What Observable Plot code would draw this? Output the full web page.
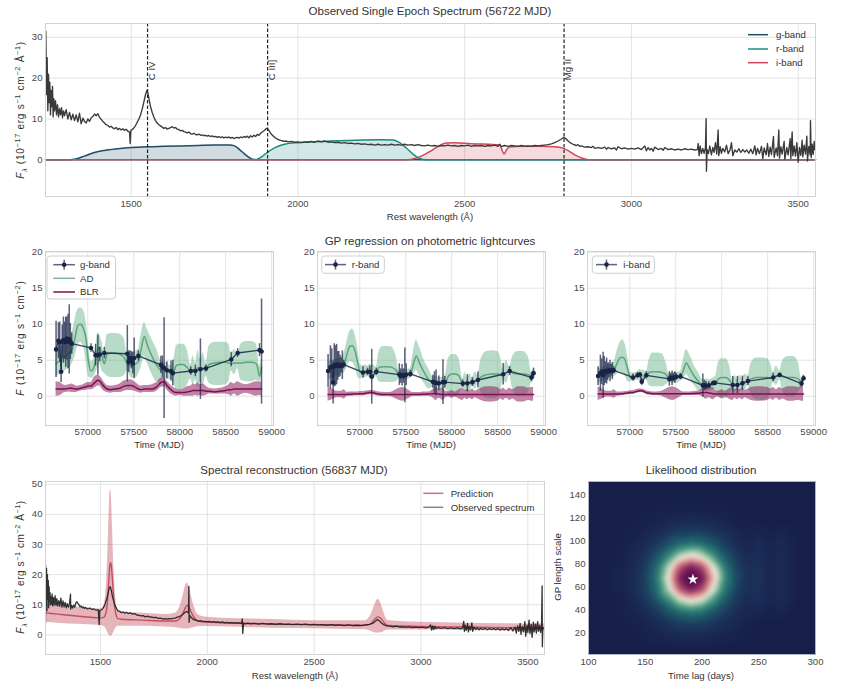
<!DOCTYPE html>
<html><head><meta charset="utf-8">
<script src="https://cdn.jsdelivr.net/npm/d3@7"></script>
<script src="https://cdn.jsdelivr.net/npm/@observablehq/plot@0.6"></script>
<style>
body{margin:0;background:#fff;}
#root{position:relative;width:841px;height:682px;overflow:hidden;background:#fff;font-family:"Liberation Sans",Arial,sans-serif;}
sup,sub{font-size:72%;line-height:0;}
</style></head><body><div id="root"></div>
<script>
// ---------------- DATA ----------------
// Top panel: observed single epoch spectrum [wavelength, flux]
const topSpec = [[1243,22],[1244,31.5],[1246,16],[1248,25],[1250,12],[1252,21],[1254,14],[1256,19],[1258,11],[1260,17],[1262,13],[1264,18],[1266,10.5],[1268,15],[1270,12],[1273,14.5],[1276,11],[1279,13.5],[1282,10.5],[1285,12.5],[1288,11],[1291,12.8],[1294,10.3],[1297,12],[1300,10.8],[1305,12.3],[1310,10],[1315,11.6],[1320,9.8],[1325,11.2],[1330,9.6],[1335,11],[1340,9.3],[1345,11.4],[1350,8.8],[1355,10.2],[1360,9.4],[1365,9.0],[1370,10],[1375,9.4],[1380,10.3],[1385,10.6],[1390,11.2],[1395,10.8],[1400,11.3],[1405,10.4],[1410,9.9],[1415,9.4],[1420,9.0],[1425,8.6],[1430,8.4],[1435,8.0],[1440,8.2],[1445,7.8],[1450,7.6],[1455,7.9],[1460,7.4],[1465,7.7],[1470,7.3],[1475,7.6],[1480,7.2],[1485,7.5],[1490,7.0],[1495,6.8],[1497,4.0],[1499,7.2],[1503,7.4],[1508,7.8],[1513,8.4],[1518,9.2],[1523,10.0],[1528,11.0],[1533,12.4],[1538,14.2],[1543,16.0],[1547,17.0],[1550,16.4],[1554,14.6],[1558,13.0],[1563,11.6],[1568,10.5],[1573,9.6],[1578,9.0],[1583,8.6],[1588,8.3],[1593,8.0],[1598,7.7],[1603,7.9],[1608,7.5],[1613,7.7],[1618,7.9],[1623,8.1],[1628,7.8],[1633,7.9],[1638,7.5],[1643,7.4],[1648,7.1],[1653,7.2],[1658,6.9],[1663,6.8],[1668,6.6],[1673,6.8],[1678,6.4],[1683,6.3],[1688,6.5],[1693,6.2],[1698,6.1],[1703,6.3],[1708,6.0],[1713,6.1],[1718,5.9],[1723,6.0],[1728,5.8],[1733,5.95],[1738,5.7],[1743,5.85],[1748,5.6],[1753,5.75],[1758,5.5],[1763,5.7],[1768,5.45],[1773,5.6],[1778,5.35],[1783,5.55],[1788,5.4],[1793,5.6],[1798,5.3],[1803,5.5],[1808,5.2],[1813,5.4],[1818,5.5],[1823,5.3],[1828,5.6],[1833,5.4],[1838,5.7],[1843,5.5],[1848,5.8],[1853,5.4],[1858,5.9],[1863,5.6],[1868,6.0],[1873,5.7],[1878,6.2],[1883,6.0],[1888,6.5],[1893,6.8],[1898,7.1],[1903,7.5],[1907,7.7],[1911,7.4],[1915,6.9],[1920,6.3],[1925,5.9],[1930,5.5],[1935,5.2],[1940,5.0],[1945,4.8],[1950,4.7],[1955,4.6],[1960,4.5],[1965,4.6],[1970,4.4],[1980,4.5],[1990,4.3],[2000,4.4],[2010,4.2],[2020,4.4],[2030,4.3],[2040,4.5],[2050,4.3],[2060,4.6],[2070,4.4],[2080,4.6],[2090,4.3],[2100,4.4],[2110,4.2],[2120,4.3],[2130,4.1],[2140,4.2],[2150,4.0],[2160,4.1],[2170,3.9],[2180,4.0],[2190,3.8],[2200,3.9],[2210,3.7],[2220,3.8],[2230,3.6],[2240,3.8],[2250,3.6],[2260,3.7],[2270,3.6],[2280,3.8],[2290,3.6],[2300,3.7],[2310,3.6],[2320,3.8],[2330,3.6],[2340,3.7],[2350,3.5],[2360,3.7],[2370,3.5],[2380,3.4],[2390,3.6],[2400,3.4],[2410,3.5],[2420,3.3],[2430,3.5],[2440,3.4],[2450,3.6],[2460,3.4],[2470,3.5],[2480,3.3],[2490,3.5],[2500,3.4],[2510,3.6],[2520,3.3],[2530,3.5],[2540,3.4],[2550,3.5],[2560,3.3],[2570,3.5],[2580,3.4],[2590,3.6],[2600,3.3],[2605,3.8],[2610,3.2],[2620,3.5],[2630,3.3],[2640,3.5],[2650,3.4],[2660,3.3],[2670,3.5],[2680,3.3],[2690,3.4],[2700,3.3],[2710,3.5],[2720,3.4],[2730,3.5],[2740,3.6],[2750,3.7],[2760,3.9],[2770,4.2],[2780,4.6],[2790,5.1],[2797,5.5],[2803,5.2],[2810,4.6],[2818,4.1],[2825,3.8],[2835,3.5],[2840,3.7],[2845,3.3],[2850,3.4],[2860,3.1],[2870,3.2],[2880,3.0],[2885,3.3],[2890,2.8],[2900,3.0],[2910,2.8],[2920,3.1],[2925,2.6],[2930,3.0],[2940,2.7],[2950,2.9],[2955,2.4],[2960,3.2],[2970,2.7],[2980,2.9],[2990,2.6],[3000,2.8],[3010,2.6],[3020,2.9],[3030,2.5],[3040,3.4],[3045,2.2],[3050,3.0],[3055,2.4],[3060,2.8],[3065,2.1],[3070,3.1],[3080,2.5],[3090,2.8],[3095,2.3],[3100,3.0],[3110,2.5],[3120,2.7],[3130,2.4],[3140,2.6],[3150,2.4],[3160,2.7],[3170,2.5],[3180,2.6],[3190,2.4],[3198,2.5],[3200,4.0],[3203,1.0],[3206,3.4],[3210,1.5],[3214,2.8],[3218,1.6],[3222,3.0],[3224,10.1],[3225,-2.8],[3227,2.5],[3231,1.5],[3235,3.4],[3240,1.2],[3244,3.0],[3248,1.8],[3252,4.2],[3256,1.4],[3260,7.3],[3262,1.0],[3266,3.2],[3270,1.6],[3274,2.8],[3280,1.9],[3285,3.6],[3290,1.5],[3296,2.5],[3300,4.2],[3304,1.0],[3310,2.4],[3316,1.9],[3322,2.7],[3328,1.8],[3334,2.5],[3340,1.9],[3346,2.4],[3352,1.6],[3358,2.6],[3364,1.5],[3370,3.4],[3374,1.2],[3378,2.8],[3384,1.5],[3390,3.3],[3394,0.3],[3398,2.9],[3404,1.2],[3408,4.0],[3412,0.8],[3416,3.1],[3420,1.3],[3426,5.7],[3428,0.6],[3434,2.9],[3438,1.0],[3442,7.3],[3444,0.4],[3448,3.2],[3452,1.4],[3458,4.5],[3460,0.1],[3466,3.0],[3470,1.2],[3476,5.2],[3478,0.3],[3482,6.8],[3484,1.0],[3488,3.4],[3492,0.9],[3496,4.2],[3500,-0.6],[3504,3.0],[3508,1.1],[3512,4.8],[3514,0.7],[3518,3.6],[3522,1.4],[3526,5.8],[3528,-0.3],[3532,3.3],[3536,1.2],[3537,9.6],[3539,0.5],[3542,3.8],[3545,1.3],[3548,4.5],[3550,2.5],[3552,3.4]];

// Filter transmission curves (scaled) [wavelength, value]
const gFilter = [[1243,0],[1305,0],[1330,0.15],[1360,0.9],[1390,1.8],[1420,2.3],[1460,2.7],[1500,3.0],[1550,3.2],[1600,3.3],[1650,3.4],[1700,3.5],[1750,3.6],[1795,3.65],[1810,3.4],[1825,2.5],[1840,1.4],[1855,0.5],[1868,0.05],[1880,0],[3552,0]];
const rFilter = [[1243,0],[1870,0],[1885,0.4],[1905,1.6],[1930,2.9],[1960,3.8],[2000,4.2],[2050,4.4],[2100,4.6],[2150,4.75],[2200,4.85],[2250,4.9],[2285,4.85],[2305,4.2],[2325,2.9],[2345,1.4],[2365,0.3],[2385,0],[3552,0]];
const iFilter = [[1243,0],[2330,0],[2350,0.3],[2370,0.9],[2395,2.0],[2420,3.3],[2445,4.1],[2470,4.2],[2520,3.95],[2570,3.8],[2605,3.7],[2612,2.4],[2618,1.4],[2625,2.4],[2635,3.1],[2670,3.3],[2720,3.3],[2770,3.2],[2797,2.8],[2815,2.0],[2835,1.0],[2855,0.3],[2875,0],[3552,0]];
const emLines = [{w:1549,name:"C IV"},{w:1909,name:"C III]"},{w:2798,name:"Mg II"}];

// Photometric light curves
const obsT = [56655,56680,56695,56710,56722,56735,56748,56760,56772,56785,56798,56810,56825,57035,57085,57110,57130,57180,57430,57445,57460,57475,57490,57505,57550,57795,57812,57830,57860,57905,57925,58120,58170,58225,58285,58560,58630,58868,58890];
const gFlux = [6.5,7.7,7.5,3.4,7.6,7.8,7.7,7.5,8.0,7.6,7.9,7.6,7.3,6.7,5.7,5.7,5.8,6.0,5.9,4.8,5.3,5.0,4.6,5.3,5.6,4.35,4.1,3.9,3.6,3.5,3.2,3.5,3.5,3.75,3.85,5.1,6.0,6.4,6.2];
const gErr  = [3.9,2.5,2.8,1.5,2.3,3.2,2.6,3.5,3.0,3.8,4.8,2.5,1.5,0.6,1.5,2.8,1.0,0.8,3.9,1.5,1.0,1.2,1.5,2.8,0.7,1.2,1.5,7.0,1.2,1.4,1.8,0.6,0.8,4.2,0.5,1.0,0.6,0.9,7.3];
const rFlux = [3.5,4.0,4.1,1.9,4.3,4.2,4.4,4.2,4.4,4.2,4.3,4.3,4.4,3.3,3.4,3.4,2.7,3.4,3.0,2.8,2.9,2.8,2.9,3.0,3.1,2.0,1.9,1.85,1.8,1.95,1.95,1.75,1.8,1.95,2.25,3.05,3.5,2.6,3.2];
const rErr  = [2.3,3.0,2.5,3.0,3.0,2.8,2.8,2.0,1.8,1.5,1.0,2.0,0.6,0.8,0.5,0.8,3.8,0.5,1.5,1.0,1.5,1.0,3.8,1.5,0.5,0.9,1.5,1.8,1.0,3.1,0.8,0.5,1.2,0.6,1.1,1.5,0.6,0.6,0.7];
const iFlux = [2.8,3.2,3.4,2.9,3.5,3.3,3.5,3.4,3.6,3.5,3.6,3.5,3.6,2.6,2.9,3.0,2.0,2.9,2.4,2.6,2.5,2.6,2.6,2.7,2.75,1.5,1.5,1.45,1.5,1.8,1.85,1.55,1.55,1.8,2.1,2.6,2.95,1.75,2.5];
const iErr  = [1.3,2.5,1.8,3.2,2.0,1.5,1.8,1.2,1.0,1.5,0.8,1.2,0.5,0.5,0.4,0.3,0.5,0.5,1.0,0.6,1.0,0.6,0.8,0.5,0.4,1.6,0.7,0.6,0.5,0.3,0.3,1.2,1.2,1.0,0.6,0.6,0.3,0.5,0.4];

// GP curves: [t, AD mean, AD lo, AD hi, BLR mean, BLR lo, BLR hi]
const gGP = [[56655,4.5,2.8,6.5,1.0,0.0,2.0],[56700,5.0,3.0,7.0,1.0,0.1,1.9],[56750,5.5,3.5,7.5,1.0,0.5,1.5],[56800,6.0,4.0,8.0,1.1,0.6,1.6],[56830,6.5,4.5,8.8,1.1,0.5,1.7],[56860,8.0,5.5,10.5,1.0,0.5,1.5],[56890,9.8,7.0,12.0,1.0,0.6,1.4],[56920,10.0,7.5,12.3,1.1,0.7,1.5],[56950,9.5,7.0,12.0,1.2,0.8,1.6],[56980,8.0,5.0,10.5,1.3,0.8,1.8],[57005,5.0,2.8,7.5,1.4,0.9,1.9],[57035,3.5,2.5,4.8,1.4,0.9,1.9],[57060,3.8,2.6,5.0,1.7,1.0,2.4],[57085,5.0,3.2,6.8,2.0,1.2,2.8],[57110,6.5,4.0,8.8,2.2,1.4,2.9],[57130,6.8,4.5,8.5,2.1,1.4,2.8],[57155,5.5,3.5,7.5,1.7,1.0,2.4],[57180,4.5,3.2,6.0,1.3,0.7,1.9],[57210,5.8,2.8,8.5,1.0,0.5,1.5],[57250,6.0,2.6,8.7,0.9,0.4,1.4],[57300,6.0,2.6,8.7,1.0,0.5,1.5],[57350,5.8,2.6,8.6,1.1,0.5,1.7],[57395,5.4,2.8,8.0,1.4,0.7,2.1],[57430,4.5,3.5,5.8,1.5,0.8,2.2],[57470,4.2,2.6,6.0,1.5,0.8,2.3],[57510,4.4,2.4,6.2,1.3,0.7,2.0],[57550,4.8,3.0,6.5,1.0,0.5,1.6],[57580,6.5,4.0,8.5,0.9,0.4,1.4],[57615,8.3,5.5,10.2,1.0,0.5,1.5],[57650,7.0,4.5,9.2,1.0,0.5,1.5],[57700,5.5,3.0,7.8,1.0,0.5,1.6],[57750,4.3,2.0,6.5,1.3,0.7,1.9],[57795,3.6,2.0,5.0,1.9,1.2,2.5],[57830,3.8,2.6,4.8,2.0,1.3,2.6],[57860,3.5,2.4,4.6,1.5,0.9,2.1],[57905,3.2,2.3,4.2,0.9,0.3,1.5],[57935,3.4,1.8,5.0,0.6,0.1,1.2],[57965,4.3,1.0,7.0,0.5,0.0,1.0],[58000,4.4,0.9,7.2,0.5,0.1,0.9],[58040,4.4,1.0,7.2,0.5,0.0,1.0],[58080,4.0,1.5,6.5,0.6,0.0,1.3],[58120,3.5,2.4,4.4,0.7,0.0,1.4],[58145,3.7,1.6,5.6,0.8,0.0,1.7],[58170,3.6,2.3,4.6,0.8,0.1,1.6],[58198,3.9,1.2,6.4,0.8,0.0,1.8],[58225,3.9,2.0,5.2,0.8,0.1,1.6],[58255,3.9,1.4,6.0,0.8,0.0,1.7],[58285,3.8,2.8,4.6,0.7,0.1,1.4],[58320,4.4,1.8,7.0,0.7,0.3,1.1],[58380,4.6,1.5,7.5,0.6,0.3,1.0],[58440,4.7,1.5,7.5,0.7,0.3,1.1],[58500,4.7,1.6,7.5,0.8,0.3,1.3],[58535,4.6,2.0,7.2,0.9,0.2,1.6],[58560,4.5,3.5,5.8,0.9,0.0,1.9],[58595,4.6,3.0,6.5,1.0,0.3,1.7],[58630,4.6,3.8,5.6,1.0,0.0,2.0],[58665,4.6,2.2,7.2,1.0,0.2,1.8],[58720,4.7,2.0,7.6,1.0,0.4,1.6],[58780,4.7,2.0,7.6,1.0,0.2,1.8],[58835,4.5,2.2,7.2,1.0,0.0,2.0],[58868,2.8,1.8,4.2,1.0,0.1,1.9],[58890,4.0,2.8,5.2,1.0,0.0,2.0]];
const rGP = [[56655,3.5,2.3,4.8,0.25,-0.7,1.2],[56700,3.8,2.5,5.0,0.25,-0.5,1.0],[56750,4.0,2.8,5.2,0.25,-0.2,0.7],[56800,4.2,3.0,5.4,0.25,-0.2,0.7],[56830,4.5,3.2,6.0,0.25,-0.4,0.9],[56860,5.8,4.0,7.5,0.25,-0.05,0.55],[56890,6.9,4.8,9.0,0.28,0.0,0.6],[56920,7.0,4.7,9.35,0.3,0.0,0.6],[56950,6.2,4.0,8.5,0.3,0.05,0.6],[56980,4.5,2.6,6.5,0.32,0.05,0.6],[57005,3.3,2.4,4.4,0.35,0.05,0.65],[57035,3.3,2.6,4.2,0.35,0.05,0.65],[57060,3.4,2.6,4.3,0.4,0.1,0.7],[57085,3.4,2.7,4.2,0.45,0.15,0.75],[57110,3.5,2.6,4.4,0.5,0.2,0.8],[57130,3.4,2.5,4.3,0.5,0.2,0.8],[57155,3.4,2.5,4.3,0.45,0.15,0.75],[57180,3.3,2.7,4.0,0.35,0.05,0.65],[57210,4.0,2.0,6.2,0.3,0.0,0.6],[57250,4.1,1.9,6.9,0.25,-0.05,0.55],[57300,4.1,1.9,6.9,0.25,0.0,0.5],[57350,4.0,1.9,6.8,0.25,-0.1,0.6],[57395,3.6,2.0,5.6,0.25,-0.4,0.9],[57430,2.9,2.4,3.5,0.25,-0.6,1.1],[57470,2.9,2.3,3.6,0.25,-0.7,1.2],[57510,3.0,2.3,3.7,0.25,-0.5,1.0],[57550,3.1,2.5,3.8,0.25,-0.2,0.7],[57580,4.3,2.9,6.0,0.25,0.0,0.5],[57615,5.6,3.6,7.8,0.25,0.0,0.5],[57650,4.6,2.8,6.8,0.25,0.0,0.5],[57700,3.3,1.8,5.0,0.28,0.0,0.6],[57750,2.3,1.0,3.8,0.3,0.0,0.6],[57795,1.9,1.2,2.7,0.35,-0.2,0.9],[57830,1.9,1.0,2.8,0.35,-0.6,1.2],[57860,1.8,0.8,2.6,0.3,-0.3,0.9],[57905,1.8,1.0,2.6,0.25,-0.6,1.1],[57935,2.0,1.0,3.2,0.25,-0.2,0.7],[57965,2.8,0.2,5.3,0.25,-0.1,0.6],[58000,3.1,-0.1,5.8,0.25,-0.3,0.8],[58040,3.1,-0.1,5.8,0.25,-0.1,0.6],[58080,2.8,0.3,5.2,0.25,-0.4,0.9],[58120,1.8,1.2,2.4,0.25,-0.6,1.1],[58145,1.9,0.6,3.3,0.25,-0.3,0.8],[58170,1.8,1.2,2.5,0.25,-0.5,1.0],[58198,1.9,0.8,3.1,0.25,-0.3,0.8],[58225,2.0,1.4,2.6,0.25,-0.5,1.0],[58255,2.1,0.9,3.4,0.25,-0.2,0.7],[58285,2.3,1.7,2.9,0.25,-0.4,0.9],[58320,2.7,0.5,5.2,0.25,-0.6,1.1],[58380,3.0,-0.3,6.2,0.25,-0.8,1.3],[58440,3.1,-0.4,6.3,0.25,-0.8,1.3],[58500,3.1,-0.2,6.2,0.25,-0.7,1.2],[58535,3.0,0.8,5.2,0.25,-0.4,0.9],[58560,3.0,2.3,3.8,0.25,-0.6,1.1],[58595,3.3,1.8,5.0,0.25,-0.3,0.8],[58630,3.5,2.9,4.1,0.25,-0.6,1.1],[58665,3.2,0.8,5.6,0.25,-0.4,0.9],[58720,3.1,0.0,6.2,0.25,-0.8,1.3],[58780,3.1,0.0,6.2,0.25,-0.8,1.3],[58835,3.0,0.6,5.4,0.25,-0.6,1.1],[58868,2.6,1.9,3.3,0.25,-0.7,1.2],[58890,3.1,2.4,3.9,0.25,-0.7,1.2]];
const iGP = [[56655,2.8,1.8,3.8,0.3,-0.6,1.3],[56700,3.0,2.0,4.0,0.3,-0.4,1.0],[56750,3.2,2.3,4.2,0.3,-0.1,0.7],[56800,3.4,2.5,4.4,0.3,-0.1,0.7],[56830,3.7,2.7,4.8,0.3,-0.3,0.9],[56860,4.5,3.0,6.2,0.3,0.0,0.6],[56890,5.3,3.4,7.3,0.32,0.05,0.6],[56920,5.4,3.2,7.8,0.35,0.1,0.6],[56950,5.0,2.8,7.2,0.4,0.15,0.65],[56980,3.6,2.0,5.2,0.45,0.2,0.7],[57005,2.6,2.0,3.3,0.5,0.25,0.75],[57035,2.6,2.1,3.2,0.5,0.25,0.75],[57060,2.7,2.1,3.3,0.6,0.35,0.85],[57085,2.8,2.2,3.4,0.7,0.45,0.95],[57110,2.9,2.1,3.7,0.75,0.5,1.0],[57130,2.8,2.0,3.6,0.75,0.5,1.0],[57155,2.8,2.0,3.6,0.65,0.4,0.9],[57180,2.8,2.3,3.4,0.5,0.25,0.75],[57210,3.3,1.5,5.0,0.4,0.15,0.65],[57250,3.4,1.3,6.0,0.35,0.1,0.6],[57300,3.4,1.3,6.0,0.35,0.1,0.6],[57350,3.3,1.3,5.9,0.35,0.0,0.7],[57395,3.0,1.6,4.6,0.35,-0.3,1.0],[57430,2.4,1.9,3.0,0.35,-0.5,1.2],[57470,2.5,1.8,3.2,0.35,-0.6,1.3],[57510,2.6,1.8,3.3,0.35,-0.4,1.1],[57550,2.7,2.1,3.4,0.35,-0.1,0.8],[57580,3.5,2.3,4.9,0.35,0.1,0.6],[57615,4.6,3.0,6.5,0.35,0.1,0.6],[57650,3.9,2.4,5.8,0.35,0.1,0.6],[57700,2.8,1.5,4.3,0.38,0.1,0.65],[57750,2.0,0.8,3.2,0.42,0.1,0.75],[57795,1.5,0.8,2.3,0.5,-0.1,1.1],[57830,1.5,0.7,2.4,0.5,-0.4,1.4],[57860,1.5,0.7,2.3,0.45,-0.2,1.1],[57905,1.7,0.9,2.5,0.35,-0.5,1.2],[57935,1.8,0.9,2.8,0.3,-0.2,0.8],[57965,2.4,0.0,4.7,0.3,-0.1,0.7],[58000,2.6,-0.4,5.2,0.3,-0.3,0.9],[58040,2.6,-0.4,5.2,0.3,-0.1,0.7],[58080,2.3,0.2,4.5,0.3,-0.4,1.0],[58120,1.6,0.9,2.3,0.3,-0.6,1.2],[58145,1.6,0.4,2.9,0.3,-0.3,0.9],[58170,1.6,0.9,2.3,0.3,-0.5,1.1],[58198,1.7,0.5,2.9,0.3,-0.3,0.9],[58225,1.8,1.1,2.5,0.3,-0.5,1.1],[58255,2.0,0.8,3.1,0.3,-0.2,0.8],[58285,2.1,1.5,2.8,0.3,-0.4,1.0],[58320,2.4,0.3,4.6,0.3,-0.6,1.2],[58380,2.6,-0.5,5.3,0.3,-0.7,1.3],[58440,2.6,-0.6,5.3,0.3,-0.7,1.3],[58500,2.6,-0.4,5.2,0.3,-0.6,1.2],[58535,2.5,0.6,4.4,0.3,-0.4,1.0],[58560,2.6,1.9,3.3,0.3,-0.6,1.2],[58595,2.8,1.5,4.2,0.3,-0.3,0.9],[58630,2.9,2.3,3.5,0.3,-0.6,1.2],[58665,2.7,0.6,5.0,0.3,-0.4,1.0],[58720,2.6,-0.1,5.5,0.3,-0.7,1.3],[58780,2.6,-0.1,5.5,0.3,-0.7,1.3],[58835,2.4,0.6,4.6,0.3,-0.6,1.2],[58868,1.8,1.2,2.4,0.3,-0.7,1.3],[58890,2.4,1.8,3.1,0.3,-0.7,1.3]];

// Bottom-left: observed spectrum [wavelength, flux] and prediction [wavelength, mean, lo, hi]
const botSpec = [[1243,4.0],[1244,23],[1246,10],[1248,22],[1250,8],[1252,20],[1254,12],[1256,18],[1258,9],[1260,16],[1262,11],[1264,14],[1266,10],[1268,12.6],[1271,10.2],[1274,13.6],[1277,9.6],[1280,12.4],[1284,10.0],[1288,13.0],[1292,9.8],[1296,12.0],[1300,9.6],[1305,11.4],[1310,9.5],[1315,12.2],[1320,9.2],[1325,11.3],[1330,9.3],[1335,10.8],[1340,9.0],[1345,10.4],[1350,9.2],[1355,10.2],[1360,13.5],[1361,8.6],[1365,9.8],[1370,8.9],[1375,9.9],[1380,9.2],[1385,10.6],[1390,11.0],[1395,10.4],[1400,10.0],[1405,9.3],[1410,9.6],[1415,9.0],[1420,9.3],[1425,8.8],[1430,9.1],[1440,8.6],[1450,8.9],[1460,8.4],[1470,8.6],[1480,8.2],[1490,8.4],[1494,3.4],[1497,8.1],[1505,8.3],[1512,8.8],[1520,9.8],[1527,11.4],[1535,13.5],[1541,15.5],[1546,16.0],[1551,14.8],[1556,12.8],[1562,11.2],[1568,9.8],[1575,8.8],[1582,8.0],[1590,7.8],[1598,7.4],[1606,7.6],[1614,7.2],[1622,7.5],[1630,7.1],[1640,7.3],[1650,6.9],[1660,7.1],[1670,6.6],[1680,6.5],[1690,6.3],[1700,6.4],[1710,6.0],[1720,6.2],[1730,5.9],[1740,6.0],[1750,5.7],[1760,5.8],[1770,5.5],[1780,5.6],[1790,5.3],[1800,5.4],[1810,5.2],[1820,5.4],[1830,5.3],[1840,5.5],[1850,5.6],[1860,5.9],[1870,6.1],[1880,6.5],[1890,7.1],[1898,7.6],[1903,7.8],[1912,7.3],[1914,16.1],[1915,4.2],[1918,6.5],[1925,5.8],[1932,5.3],[1940,5.0],[1950,4.8],[1960,4.6],[1970,4.7],[1980,4.4],[1990,4.5],[2000,4.3],[2010,4.5],[2020,4.2],[2030,4.4],[2040,4.2],[2050,4.3],[2060,4.1],[2070,4.3],[2080,4.0],[2090,4.2],[2100,4.0],[2110,4.1],[2120,3.9],[2130,4.1],[2140,3.9],[2150,4.0],[2160,3.8],[2164,5.3],[2166,0.5],[2170,3.9],[2180,3.7],[2190,3.9],[2200,3.7],[2220,3.8],[2240,3.6],[2260,3.8],[2280,3.6],[2300,3.7],[2320,3.5],[2340,3.7],[2360,3.5],[2380,3.6],[2400,3.4],[2420,3.6],[2440,3.4],[2460,3.6],[2480,3.3],[2500,3.5],[2520,3.3],[2540,3.4],[2560,3.2],[2580,3.4],[2600,3.2],[2620,3.3],[2640,3.1],[2660,3.3],[2680,3.1],[2700,3.2],[2720,3.1],[2740,3.3],[2760,3.5],[2775,3.9],[2788,4.6],[2797,5.1],[2806,4.6],[2815,3.9],[2828,3.3],[2840,3.0],[2855,2.9],[2870,2.7],[2885,2.9],[2900,2.6],[2915,2.7],[2930,2.5],[2945,2.7],[2960,2.4],[2975,2.6],[2990,2.4],[3005,2.6],[3020,2.3],[3035,2.5],[3045,3.3],[3050,1.6],[3055,3.0],[3060,1.8],[3065,2.9],[3070,2.1],[3080,2.4],[3095,2.2],[3110,2.4],[3125,2.1],[3140,2.3],[3155,2.1],[3170,2.3],[3185,2.0],[3195,2.3],[3200,4.5],[3203,1.2],[3207,3.2],[3212,1.5],[3218,3.8],[3222,1.0],[3226,2.8],[3232,1.6],[3238,4.0],[3242,1.2],[3248,2.6],[3256,1.8],[3264,2.3],[3272,1.7],[3280,2.2],[3290,1.8],[3300,2.2],[3310,1.7],[3320,2.1],[3330,1.8],[3340,2.1],[3350,1.7],[3360,2.1],[3370,1.6],[3380,2.0],[3390,1.7],[3400,2.0],[3410,1.5],[3420,2.4],[3430,1.3],[3440,2.6],[3446,0.6],[3452,3.0],[3458,1.2],[3464,3.8],[3468,0.2],[3474,2.8],[3480,1.0],[3486,4.4],[3490,-0.4],[3496,3.2],[3500,0.8],[3506,4.9],[3510,0.5],[3516,3.5],[3520,-0.8],[3526,4.2],[3530,1.0],[3536,3.6],[3540,0.6],[3546,4.4],[3550,1.2],[3556,3.2],[3560,0.8],[3564,2.8],[3567,16.3],[3568,-3.9],[3570,2.0],[3575,2.4]];
const predRows = [[1243,7.3,4.2,10.4],[1300,6.9,3.9,9.9],[1400,6.2,3.5,9.2],[1480,5.7,3.2,8.7],[1500,5.6,3.1,8.6],[1515,5.8,2.8,9.5],[1525,7.0,2.2,13.5],[1533,11.0,1.0,24],[1540,19.0,0.0,39],[1545,23.5,-0.4,47.5],[1548,24,-0.5,48.2],[1551,23,-0.4,46.5],[1556,18.5,0.0,37],[1563,11.5,1.0,22.5],[1572,7.0,2.2,12.0],[1582,5.4,2.9,8.2],[1600,5.2,2.9,7.7],[1700,4.9,2.9,7.2],[1800,4.6,2.6,6.8],[1850,4.6,2.4,7.2],[1870,5.3,2.2,9.0],[1885,7.0,2.0,12.5],[1897,9.0,2.0,16.0],[1905,9.8,2.0,17.2],[1913,9.3,2.0,16.5],[1925,7.5,2.2,13.0],[1940,5.6,2.5,9.2],[1955,4.6,2.7,6.8],[2000,4.3,2.8,5.9],[2200,3.8,2.4,5.3],[2400,3.5,2.1,4.9],[2600,3.3,1.9,4.7],[2740,3.2,1.7,4.7],[2765,3.7,1.2,6.5],[2780,4.9,0.8,9.2],[2795,5.9,0.6,11.6],[2800,6.0,0.6,11.8],[2810,5.6,0.7,10.8],[2825,4.3,1.0,7.8],[2845,3.1,1.6,4.8],[3000,2.8,1.6,4.2],[3200,2.6,1.5,3.9],[3400,2.4,1.4,3.7],[3578,2.3,1.3,3.6]];

// Bottom-right: likelihood grid (rows = GP length scale, cols = time lag)
const heatX = [100,110,120,130,140,150,160,170,180,190,200,210,220,230,240,250,260,270,280,290,300];
const heatY = [8,18,28,38,48,58,68,78,88,98,108,118,128,138,148];
const heatRows = [
 [0,0,0,0,0.003,0.007,0.012,0.016,0.019,0.02,0.019,0.017,0.013,0.008,0.003,0,0,0,0,0,0],
 [0,0,0,0.003,0.008,0.016,0.026,0.039,0.047,0.05,0.048,0.04,0.028,0.017,0.009,0.004,0,0,0,0,0],
 [0,0,0.001,0.008,0.016,0.033,0.05,0.07,0.092,0.10,0.094,0.077,0.056,0.039,0.019,0.009,0.002,0,0,0,0],
 [0,0,0.005,0.014,0.028,0.053,0.087,0.14,0.195,0.22,0.203,0.15,0.095,0.059,0.034,0.036,0.016,0.031,0.01,0,0],
 [0,0,0.008,0.018,0.042,0.077,0.142,0.258,0.412,0.50,0.439,0.286,0.161,0.086,0.048,0.061,0.029,0.052,0.02,0,0],
 [0,0.002,0.010,0.024,0.052,0.099,0.203,0.42,0.759,0.90,0.798,0.48,0.233,0.114,0.06,0.069,0.032,0.053,0.02,0,0],
 [0,0.002,0.011,0.026,0.056,0.11,0.229,0.50,0.887,1.0,0.922,0.596,0.273,0.128,0.064,0.071,0.033,0.054,0.02,0,0],
 [0,0.002,0.010,0.024,0.052,0.099,0.203,0.42,0.759,0.90,0.798,0.48,0.233,0.114,0.06,0.07,0.032,0.055,0.022,0,0],
 [0,0,0.008,0.018,0.042,0.077,0.142,0.258,0.412,0.50,0.439,0.286,0.161,0.086,0.048,0.062,0.03,0.053,0.02,0,0],
 [0,0,0.005,0.014,0.028,0.053,0.087,0.14,0.195,0.22,0.203,0.15,0.095,0.059,0.034,0.056,0.026,0.05,0.02,0,0],
 [0,0,0.001,0.008,0.016,0.033,0.05,0.07,0.092,0.10,0.094,0.077,0.056,0.039,0.019,0.029,0.012,0.027,0.01,0,0],
 [0,0,0,0.003,0.008,0.016,0.026,0.039,0.047,0.05,0.048,0.04,0.028,0.017,0.009,0.006,0.002,0.005,0,0,0],
 [0,0,0,0,0.003,0.007,0.012,0.016,0.019,0.02,0.019,0.017,0.013,0.008,0.003,0,0,0,0,0,0],
 [0,0,0,0,0,0,0.003,0.006,0.007,0.008,0.007,0.006,0.004,0,0,0,0,0,0,0,0],
 [0,0,0,0,0,0,0,0,0,0,0,0,0,0,0,0,0,0,0,0,0]];
const bestFit = [{lag:192, scale:67}];

// Tick values
const specTicksX = [1500,2000,2500,3000,3500];
const topTicksY = [0,10,20,30];
const lcTicksX = [57000,57500,58000,58500,59000];
const lcTicksY = [0,5,10,15,20];
const recTicksY = [0,10,20,30,40,50];
const lagTicks = [100,150,200,250,300];
const scaleTicks = [20,40,60,80,100,120,140];

// ---------------- STYLE ----------------
const FONT = '"Liberation Sans", Arial, sans-serif';
const GRID = "#e3e3e3", FRAME = "#d2d2d2", TICK = "#4a4a4a";
const gCol = "#1f4e66", rCol = "#1b8c80", iCol = "#cd4a5a";
const navy = "#1b2447", adFill = "#5fb082", adLine = "#5aa57a", blrFill = "#8e1f5e", blrLine = "#7a114c";
const predCol = "#c44e5e";
const curlStops = [0,0.05,0.1,0.15,0.2,0.25,0.3,0.35,0.4,0.45,0.5,0.55,0.6,0.7,0.8,0.9,1];
const curlColors = ["#171e48","#1a2a54","#1c3d5f","#1e5468","#22696f","#2e7f77","#48947f","#69ab8c","#96c4a4","#cfe2d1","#fcf4ef","#f3d3c4","#e8b3a3","#d07f83","#a8466c","#72195a","#45093f"];

const root = document.getElementById("root");
const fmt = d => String(d);
const baseStyle = {fontFamily: FONT, fontSize: "9.6px", color: TICK, overflow: "visible"};
const M = {marginLeft: 40, marginRight: 8, marginTop: 6, marginBottom: 22};

function place(el, left, top) {
  el.style.position = "absolute"; el.style.left = left + "px"; el.style.top = top + "px";
  root.appendChild(el);
}
function label(html, x, y, rotate = 0, size = 9.6, target = 0) {
  const d = document.createElement("div");
  d.innerHTML = html;
  Object.assign(d.style, {position: "absolute", left: x + "px", top: y + "px", transform: `translate(-50%,-50%) rotate(${rotate}deg)`, fontSize: size + "px", color: "#333", whiteSpace: "nowrap", fontFamily: FONT, lineHeight: "1"});
  root.appendChild(d);
  if (target) {
    const w = d.offsetWidth, n = d.textContent.length;
    if (w < target) d.style.letterSpacing = ((target - w) / n).toFixed(2) + "px";
  }
}
function grids(tx, ty) {
  return [Plot.gridX(tx, {stroke: GRID, strokeOpacity: 1, strokeWidth: 1}), Plot.gridY(ty, {stroke: GRID, strokeOpacity: 1, strokeWidth: 1})];
}
function axes(tx, ty, px = 4) {
  return [Plot.axisX(tx, {tickSize: 0, tickPadding: px, tickFormat: fmt, label: null}),
          Plot.axisY(ty, {tickSize: 0, tickPadding: 3, tickFormat: fmt, label: null})];
}

// ---------------- PANEL A: observed spectrum ----------------
const filters = [[gFilter, gCol], [rFilter, rCol], [iFilter, iCol]];
const A = Plot.plot({
  width: 818, height: 201, ...M, style: baseStyle,
  x: {type: "linear", domain: [1243, 3552]}, y: {domain: [-9, 33.4]},
  marks: [
    ...grids(specTicksX, topTicksY),
    ...filters.map(([f, c]) => Plot.areaY(f, {x: d => d[0], y: d => d[1], fill: c, fillOpacity: 0.2, curve: "monotone-x"})),
    ...filters.map(([f, c]) => Plot.line(f, {x: d => d[0], y: d => d[1], stroke: c, strokeWidth: 1.5, curve: "monotone-x"})),
    Plot.line(topSpec, {x: d => d[0], y: d => d[1], stroke: "#3a3a3a", strokeWidth: 1.35, clip: true}),
    Plot.ruleX(emLines, {x: "w", stroke: "#222", strokeWidth: 1.2, strokeDasharray: "3.5,2"}),
    Plot.text(emLines, {x: "w", y: 19.5, text: "name", rotate: -90, textAnchor: "start", dx: 4, fill: "#333", fontSize: 9.6}),
    Plot.frame({stroke: FRAME}),
    ...axes(specTicksX, topTicksY, 4)
  ]
});
place(A, 5, 17);

// ---------------- PANELS B: light curves ----------------
function lcPanel(gp, flux, err) {
  const obs = obsT.map((t, i) => ({t, f: flux[i], e: err[i]}));
  const rows = gp.map(r => ({t: r[0], am: r[1], alo: r[2], ahi: r[3], bm: r[4], blo: r[5], bhi: r[6]}));
  return Plot.plot({
    width: 276, height: 202, ...M, style: baseStyle,
    x: {type: "linear", domain: [56540, 59020]}, y: {domain: [-4.07, 20.1]},
    marks: [
      ...grids(lcTicksX, lcTicksY),
      Plot.areaY(rows, {x: "t", y1: "alo", y2: "ahi", fill: adFill, fillOpacity: 0.45, curve: "monotone-x"}),
      Plot.line(rows, {x: "t", y: "am", stroke: adLine, strokeWidth: 1.5, curve: "monotone-x"}),
      Plot.areaY(rows, {x: "t", y1: "blo", y2: "bhi", fill: blrFill, fillOpacity: 0.55, curve: "monotone-x"}),
      Plot.line(rows, {x: "t", y: "bm", stroke: blrLine, strokeWidth: 1.5, curve: "monotone-x"}),
      Plot.ruleX(obs, {x: "t", y1: d => d.f - d.e, y2: d => d.f + d.e, stroke: navy, strokeOpacity: 0.72, strokeWidth: 1.5}),
      Plot.line(obs, {x: "t", y: "f", stroke: navy, strokeWidth: 1.3, strokeOpacity: 0.85}),
      Plot.dot(obs, {x: "t", y: "f", r: 2.3, fill: navy}),
      Plot.frame({stroke: FRAME}),
      ...axes(lcTicksX, lcTicksY, 3)
    ]
  });
}
place(lcPanel(gGP, gFlux, gErr), 5, 245);
place(lcPanel(rGP, rFlux, rErr), 277, 245);
place(lcPanel(iGP, iFlux, iErr), 547, 245);

// ---------------- PANEL C1: spectral reconstruction ----------------
const C1 = Plot.plot({
  width: 547, height: 201, ...M, style: baseStyle,
  x: {type: "linear", domain: [1243, 3578]}, y: {domain: [-6.5, 50.9]},
  marks: [
    ...grids(specTicksX, recTicksY),
    Plot.areaY(predRows, {x: d => d[0], y1: d => d[2], y2: d => d[3], fill: predCol, fillOpacity: 0.42, curve: "monotone-x"}),
    Plot.line(predRows, {x: d => d[0], y: d => d[1], stroke: predCol, strokeWidth: 1.4, curve: "monotone-x"}),
    Plot.line(botSpec, {x: d => d[0], y: d => d[1], stroke: "#222", strokeWidth: 1.3, strokeOpacity: 0.92, clip: true}),
    Plot.frame({stroke: FRAME}),
    ...axes(specTicksX, recTicksY, 4)
  ]
});
place(C1, 5, 475);

// ---------------- PANEL C2: likelihood ----------------
const cells = heatRows.flatMap((row, j) => row.map((v, i) => ({lag: heatX[i], scale: heatY[j], v})));
const C2 = Plot.plot({
  width: 275, height: 201, ...M, style: baseStyle,
  x: {type: "linear", domain: [100, 300]}, y: {domain: [1.7, 151.8]},
  color: {type: "linear", domain: curlStops, range: curlColors, clamp: true},
  marks: [
    Plot.raster(cells, {x: "lag", y: "scale", fill: "v", interpolate: "barycentric", blur: 2}),
    Plot.dot(bestFit, {x: "lag", y: "scale", symbol: "star", fill: "white", r: 3.5}),
    Plot.frame({stroke: "#b0b4c2"}),
    Plot.axisX(lagTicks, {tickSize: 0, tickPadding: 4, tickFormat: fmt, label: null}),
    Plot.axisY(scaleTicks, {tickSize: 0, tickPadding: 3, tickFormat: fmt, label: null})
  ]
});
place(C2, 548, 475);

// ---------------- TITLES & AXIS LABELS ----------------
const fLam = '<i>F</i><sub><i>λ</i></sub> (10<sup>−17</sup> erg s<sup>−1</sup> cm<sup>−2</sup> Å<sup>−1</sup>)';
label("Observed Single Epoch Spectrum (56722 MJD)", 430, 12, 0, 11.5);
label("GP regression on photometric lightcurves", 430, 242, 0, 11.5);
label("Spectral reconstruction (56837 MJD)", 294, 470.5, 0, 11.5);
label("Likelihood distribution", 701, 470.5, 0, 11.5);
label("Rest wavelength (Å)", 430, 217);
label(fLam, 21, 109.5, -90, 10, 138);
label("Time (MJD)", 159, 445); label("Time (MJD)", 431, 445); label("Time (MJD)", 701, 445);
label('<i>F</i> (10<sup>−17</sup> erg s<sup>−1</sup> cm<sup>−2</sup>)', 21, 338, -90, 10, 115);
label("Rest wavelength (Å)", 295, 675.5);
label(fLam, 21, 567, -90, 10, 134);
label("Time lag (days)", 701, 675.5);
label("GP length scale", 558, 567, -90);

// ---------------- LEGENDS ----------------
const ov = d3.create("svg").attr("width", 841).attr("height", 682)
  .style("position", "absolute").style("left", "0px").style("top", "0px").style("pointer-events", "none")
  .style("font-family", FONT).style("font-size", "9.6px");
function legLine(x1, x2, y, color, op = 1) {
  ov.append("line").attr("x1", x1).attr("x2", x2).attr("y1", y).attr("y2", y).attr("stroke", color).attr("stroke-width", 1.5).attr("stroke-opacity", op);
}
function legText(x, y, t) {
  ov.append("text").attr("x", x).attr("y", y).attr("dy", "0.35em").attr("fill", "#333").text(t);
}
function legBox(x, y, w, h) {
  ov.append("rect").attr("x", x).attr("y", y).attr("width", w).attr("height", h).attr("rx", 3)
    .attr("fill", "white").attr("fill-opacity", 0.8).attr("stroke", "#cfcfcf");
}
function legErr(x1, x2, y) {
  legLine(x1, x2, y, navy, 0.7);
  const xm = (x1 + x2) / 2;
  ov.append("line").attr("x1", xm).attr("x2", xm).attr("y1", y - 5).attr("y2", y + 5).attr("stroke", navy).attr("stroke-width", 1.5).attr("stroke-opacity", 0.7);
  ov.append("circle").attr("cx", xm).attr("cy", y).attr("r", 2.3).attr("fill", navy);
}
[["g-band", gCol, 34.7], ["r-band", rCol, 49], ["i-band", iCol, 62.7]].forEach(([t, c, y]) => { legLine(748, 768, y, c); legText(776, y, t); });
legBox(47, 256, 68.5, 43);
legErr(53.3, 75, 264.7); legText(80, 264.7, "g-band");
legLine(53.3, 75, 278.3, adLine, 0.8); legText(80, 278.3, "AD");
legLine(53.3, 75, 292, blrLine); legText(80, 292, "BLR");
legBox(321.7, 256, 62.6, 17.3); legErr(325, 346, 264.6); legText(351.7, 264.6, "r-band");
legBox(592.3, 256, 62, 17.3); legErr(596, 617, 264.6); legText(623.3, 264.6, "i-band");
legLine(423.3, 443.3, 493.3, predCol, 0.8); legText(450.7, 493.3, "Prediction");
legLine(423.3, 443.3, 507.3, "#333", 0.6); legText(450.7, 507.3, "Observed spectrum");
root.appendChild(ov.node());
</script></body></html>
